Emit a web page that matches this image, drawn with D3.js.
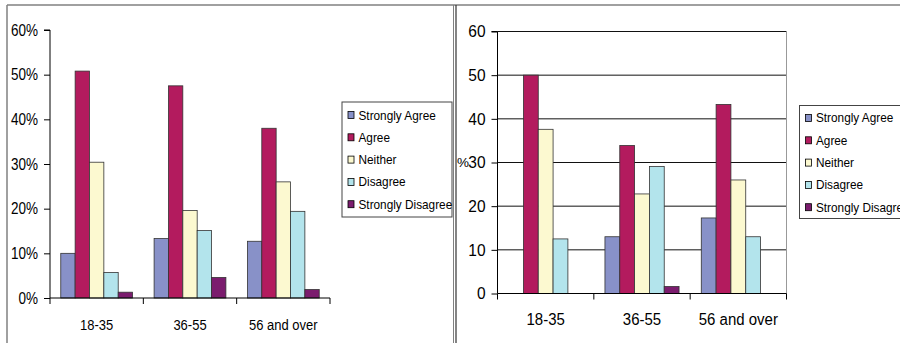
<!DOCTYPE html>
<html>
<head>
<meta charset="utf-8">
<script src="https://cdn.jsdelivr.net/npm/d3@7"></script>
<style>
  html, body { margin: 0; padding: 0; background: #fff; }
  svg { display: block; font-family: "Liberation Sans", Arial, sans-serif; }
</style>
</head>
<body>
<svg id="chart" width="900" height="343"></svg>
<script>
// Age groups and response categories
const ageGroups = ["18-35", "36-55", "56 and over"];
const responses = ["Strongly Agree", "Agree", "Neither", "Disagree", "Strongly Disagree"];
const responseLabelsRight = ["Strongly  Agree", "Agree", "Neither", "Disagree", "Strongly  Disagree"];
const responseColors = ["#8891c8", "#b31b5e", "#fcf9d0", "#b3e4ec", "#7b1c6e"];

// Left panel: share of respondents (fractions), one array per age group
const leftValues1835 = [0.100, 0.508, 0.304, 0.057, 0.013];
const leftValues3655 = [0.133, 0.475, 0.196, 0.151, 0.046];
const leftValues56 = [0.127, 0.380, 0.260, 0.194, 0.019];
const leftTicks = [0, 0.1, 0.2, 0.3, 0.4, 0.5, 0.6];

// Right panel: percentages, one array per age group
const rightValues1835 = [0, 50.0, 37.6, 12.5, 0];
const rightValues3655 = [13.0, 33.9, 22.8, 29.1, 1.6];
const rightValues56 = [17.3, 43.3, 26.0, 13.0, 0];
const rightTicks = [0, 10, 20, 30, 40, 50, 60];

const leftData = [leftValues1835, leftValues3655, leftValues56];
const rightData = [rightValues1835, rightValues3655, rightValues56];

const svg = d3.select("#chart");

// Panel frames
svg.append("line").attr("x1", 7).attr("x2", 900).attr("y1", 5).attr("y2", 5)
  .attr("stroke", "#808080").attr("stroke-width", 1.5);
svg.append("line").attr("x1", 7).attr("x2", 7).attr("y1", 5).attr("y2", 343)
  .attr("stroke", "#808080").attr("stroke-width", 1.5);
svg.append("line").attr("x1", 453.5).attr("x2", 453.5).attr("y1", 5).attr("y2", 343)
  .attr("stroke", "#808080").attr("stroke-width", 1);
svg.append("line").attr("x1", 456).attr("x2", 456).attr("y1", 5).attr("y2", 343)
  .attr("stroke", "#333").attr("stroke-width", 1.2);

function drawPanel(opts) {
  const g = svg.append("g");
  const x0 = d3.scaleBand().domain(ageGroups).range([opts.left, opts.right]).padding(0);
  const bw = x0.bandwidth();
  const barW = bw / 6.5;
  const gap = (bw - barW * 5) / 2;
  const x1 = d3.scaleBand().domain(responses).range([gap, bw - gap]).padding(0);
  const y = d3.scaleLinear().domain([0, opts.max]).range([opts.bottom, opts.top]);

  // gridlines
  if (opts.grid) {
    g.append("g")
      .selectAll("line")
      .data(opts.ticks.filter(t => t > 0))
      .join("line")
      .attr("x1", opts.left).attr("x2", opts.right)
      .attr("y1", d => y(d)).attr("y2", d => y(d))
      .attr("stroke", "#111").attr("stroke-width", 1);
    g.append("line")
      .attr("x1", opts.right).attr("x2", opts.right)
      .attr("y1", opts.top).attr("y2", opts.bottom)
      .attr("stroke", "#999").attr("stroke-width", 1);
  }

  // bars
  const groups = g.append("g").selectAll("g")
    .data(opts.data.map((vals, i) => ({ cat: ageGroups[i], vals })))
    .join("g")
    .attr("transform", d => `translate(${x0(d.cat)},0)`);
  groups.selectAll("rect")
    .data(d => d.vals.map((v, j) => ({ key: responses[j], v, j })).filter(e => e.v > 0))
    .join("rect")
    .attr("x", e => x1(e.key))
    .attr("width", x1.bandwidth())
    .attr("y", e => y(e.v))
    .attr("height", e => y(0) - y(e.v))
    .attr("fill", e => responseColors[e.j])
    .attr("stroke", "#333")
    .attr("stroke-width", 0.8);

  // y axis
  const yAxis = d3.axisLeft(y).tickValues(opts.ticks).tickFormat(opts.fmt).tickSize(6).tickPadding(opts.tickPad);
  const ya = g.append("g").attr("transform", `translate(${opts.left},0)`).call(yAxis);
  ya.select(".domain").attr("stroke", "#000").attr("d", `M-6,${opts.top}H0V${opts.bottom}`);
  ya.selectAll(".tick line").attr("stroke", "#000");
  ya.selectAll("text").attr("font-size", opts.yFont).attr("fill", "#000")
    .attr("font-family", "'Liberation Sans', Arial, sans-serif")
    .attr("transform", `scale(1,${opts.sy})`);

  // x axis
  const xa = g.append("g").attr("transform", `translate(0,${opts.bottom})`);
  xa.append("line").attr("x1", opts.left).attr("x2", opts.right).attr("y1", 0).attr("y2", 0)
    .attr("stroke", "#000");
  const bounds = [opts.left].concat(ageGroups.map(c => x0(c) + bw));
  xa.selectAll("line.tk").data(bounds).join("line").attr("class", "tk")
    .attr("x1", d => d).attr("x2", d => d).attr("y1", 0).attr("y2", 6).attr("stroke", "#000");
  xa.selectAll("text").data(ageGroups).join("text")
    .attr("transform", d => `translate(${x0(d) + bw / 2},${opts.xLabelDy}) scale(1,${opts.sy})`)
    .attr("text-anchor", "middle")
    .attr("font-size", opts.xFont)
    .attr("fill", "#000")
    .text(d => d);

  // legend
  const lg = g.append("g").attr("transform", `translate(${opts.legX},${opts.legY})`);
  lg.append("rect").attr("x", 0).attr("y", 0).attr("width", opts.legW).attr("height", opts.legH)
    .attr("fill", "#fff").attr("stroke", "#444").attr("stroke-width", 1);
  const items = lg.selectAll("g.item").data(opts.labels).join("g").attr("class", "item")
    .attr("transform", (d, i) => `translate(0,${opts.legFirst + i * opts.legStep})`);
  items.append("rect").attr("x", 6).attr("y", -3.5).attr("width", 6).attr("height", 7)
    .attr("fill", (d, i) => responseColors[i]).attr("stroke", "#000").attr("stroke-width", 0.8);
  items.append("text").attr("x", 16.5).attr("y", 0).attr("dy", "0.35em")
    .attr("font-size", opts.legFont).attr("fill", "#000")
    .attr("transform", `scale(1,${opts.legSy})`)
    .text(d => d);
  return { y };
}

drawPanel({
  data: leftData, left: 50, right: 330, top: 30, bottom: 298, max: 0.6,
  ticks: leftTicks, fmt: d3.format(".0%"), grid: false, tickPad: 6, sy: 1.18,
  yFont: 13.5, xFont: 13, xLabelDy: 32,
  labels: responses,
  legX: 342, legY: 102, legW: 110, legH: 115, legFirst: 13, legStep: 22.3, legFont: 11.8, legSy: 1.1
});

const right = drawPanel({
  data: rightData, left: 497.5, right: 786.5, top: 31.5, bottom: 293.5, max: 60,
  ticks: rightTicks, fmt: d3.format("d"), grid: true, tickPad: 6, sy: 1.08,
  yFont: 15.5, xFont: 15, xLabelDy: 31.5,
  labels: responseLabelsRight,
  legX: 799.5, legY: 105.5, legW: 110, legH: 113, legFirst: 12.5, legStep: 22.3, legFont: 11.8, legSy: 1.05
});

// Axis title of the right panel
svg.append("text")
  .attr("x", 469).attr("y", right.y(30)).attr("dy", "0.35em")
  .attr("text-anchor", "end")
  .attr("font-size", 13.5).attr("fill", "#000").text("%");
</script>
</body>
</html>
